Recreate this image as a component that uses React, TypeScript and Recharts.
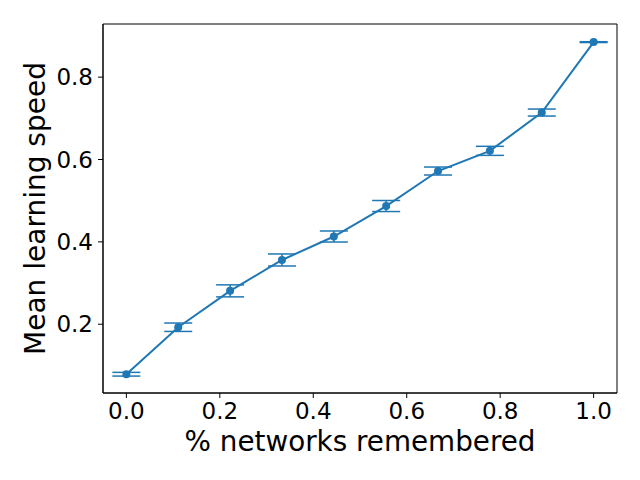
import React from "react";
import { LineChart, Line, XAxis, YAxis, ErrorBar, ReferenceArea, Label } from "recharts";

const fractionsRemembered = [0, 0.111, 0.222, 0.333, 0.444, 0.556, 0.667, 0.778, 0.889, 1.0];
const meanSpeed = [0.0786, 0.1927, 0.281, 0.356, 0.413, 0.487, 0.572, 0.621, 0.714, 0.885];
const speedError = [0.0045, 0.0102, 0.0146, 0.0146, 0.0134, 0.0134, 0.0097, 0.011, 0.0085, 0.001];
const xTicks = [0, 0.2, 0.4, 0.6, 0.8, 1.0];
const yTicks = [0.2, 0.4, 0.6, 0.8];
const xDomain = [-0.05, 1.05];
const yDomain = [0.033, 0.929];

const data = fractionsRemembered.map((x, i) => ({
  x,
  y: meanSpeed[i],
  err: speedError[i],
}));

const BLUE = "#1f77b4";
const FONT = "DejaVu Sans";

const XLabelContent = (props: any) => {
  const vb = props.viewBox || {};
  const cx = (vb.x ?? 103) + (vb.width ?? 514) / 2;
  return (
    <text x={cx} y={450.5} textAnchor="middle" fill="#000" fontSize={27.8} fontFamily={FONT}>
      % networks remembered
    </text>
  );
};

const YLabelContent = (props: any) => {
  const vb = props.viewBox || {};
  const cy = (vb.y ?? 24) + (vb.height ?? 369) / 2;
  const x = 45;
  return (
    <text
      x={x}
      y={cy}
      transform={`rotate(-90, ${x}, ${cy})`}
      textAnchor="middle"
      fill="#000"
      fontSize={28}
      fontFamily={FONT}
    >
      Mean learning speed
    </text>
  );
};

export default function App() {
  return (
    <div style={{ position: "absolute", left: 0, top: 0, width: 640, height: 480, background: "#fff" }}>
      <LineChart
        width={640}
        height={480}
        data={data}
        margin={{ top: 24, right: 23, bottom: 0, left: 0 }}
      >
        <XAxis
          dataKey="x"
          type="number"
          domain={xDomain}
          ticks={xTicks}
          allowDataOverflow
          tickFormatter={(v: number) => v.toFixed(1)}
          height={87}
          tickSize={5}
          tickMargin={4.5}
          stroke="#000"
          tick={{ fill: "#000", fontSize: 23, fontFamily: FONT }}
        >
          <Label content={XLabelContent} />
        </XAxis>
        <YAxis
          type="number"
          domain={yDomain}
          ticks={yTicks}
          allowDataOverflow
          tickFormatter={(v: number) => v.toFixed(1)}
          width={103}
          tickSize={5}
          tickMargin={5}
          stroke="#000"
          tick={{ fill: "#000", fontSize: 23, fontFamily: FONT }}
        >
          <Label content={YLabelContent} />
        </YAxis>
        <ReferenceArea
          x1={xDomain[0]}
          x2={xDomain[1]}
          y1={yDomain[0]}
          y2={yDomain[1]}
          fill="none"
          fillOpacity={0}
          stroke="#000"
          strokeWidth={1}
          ifOverflow="visible"
        />
        <Line
          type="linear"
          dataKey="y"
          stroke={BLUE}
          strokeWidth={2}
          dot={{ r: 4, fill: BLUE, stroke: "none" }}
          activeDot={false}
          isAnimationActive={false}
        >
          <ErrorBar dataKey="err" width={14} stroke={BLUE} strokeWidth={1.5} direction="y" />
        </Line>
      </LineChart>
    </div>
  );
}
